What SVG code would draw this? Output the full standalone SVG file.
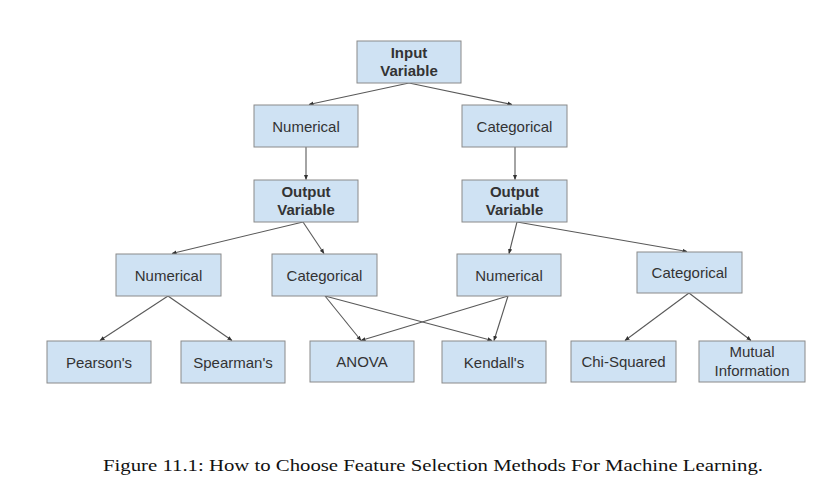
<svg xmlns="http://www.w3.org/2000/svg" width="827" height="495" viewBox="0 0 827 495">
<defs>
<style>
.box{fill:#cfe2f3;stroke:#8a8a8a;stroke-width:1}
.t{font-family:"Liberation Sans",Arial,sans-serif;font-size:15px;fill:#333333;text-anchor:middle}
.b{font-weight:bold}
.e{stroke:#595959;stroke-width:1.1;fill:none;marker-end:url(#ah)}
.cap{font-family:"Liberation Serif","Times New Roman",serif;font-size:16px;fill:#111111}
</style>
<marker id="ah" viewBox="0 0 6 6" refX="5.5" refY="3" markerWidth="5" markerHeight="5" orient="auto" markerUnits="userSpaceOnUse">
<path d="M0,0.5 L6,3 L0,5.5 Z" fill="#333333"/>
</marker>
</defs>
<rect width="827" height="495" fill="#ffffff"/>
<g id="connectors">
<line class="e" x1="409" y1="83" x2="309" y2="104.5"/>
<line class="e" x1="409" y1="83" x2="512" y2="104.5"/>
<line class="e" x1="306" y1="147" x2="306" y2="179.5"/>
<line class="e" x1="515" y1="147" x2="515" y2="179.5"/>
<line class="e" x1="303" y1="222" x2="172" y2="253.5"/>
<line class="e" x1="303" y1="222" x2="324" y2="253.5"/>
<line class="e" x1="517" y1="222" x2="509" y2="253.5"/>
<line class="e" x1="517" y1="222" x2="687" y2="251.5"/>
<line class="e" x1="168" y1="296" x2="100" y2="340.5"/>
<line class="e" x1="168" y1="296" x2="232" y2="340.5"/>
<line class="e" x1="325" y1="296" x2="361" y2="340.5"/>
<line class="e" x1="325" y1="296" x2="492" y2="340.5"/>
<line class="e" x1="508" y1="296" x2="361" y2="340.5"/>
<line class="e" x1="508" y1="296" x2="494" y2="340.5"/>
<line class="e" x1="689" y1="293" x2="625" y2="340.5"/>
<line class="e" x1="689" y1="293" x2="751" y2="340.5"/>
</g>
<g id="input">
<rect class="box" x="357" y="41" width="104" height="42"/>
<text class="t b" x="409" y="58">Input</text>
<text class="t b" x="409" y="76">Variable</text>
</g>
<g id="num1">
<rect class="box" x="254" y="105" width="104" height="42"/>
<text class="t" x="306" y="131.5">Numerical</text>
</g>
<g id="cat1">
<rect class="box" x="462" y="105" width="105" height="42"/>
<text class="t" x="514.5" y="131.5">Categorical</text>
</g>
<g id="out1">
<rect class="box" x="254" y="180" width="104" height="42"/>
<text class="t b" x="306" y="197">Output</text>
<text class="t b" x="306" y="215">Variable</text>
</g>
<g id="out2">
<rect class="box" x="462" y="180" width="105" height="42"/>
<text class="t b" x="514.5" y="197">Output</text>
<text class="t b" x="514.5" y="215">Variable</text>
</g>
<g id="num2">
<rect class="box" x="116" y="254" width="105" height="42"/>
<text class="t" x="168.5" y="280.5">Numerical</text>
</g>
<g id="cat2">
<rect class="box" x="272" y="254" width="105" height="42"/>
<text class="t" x="324.5" y="280.5">Categorical</text>
</g>
<g id="num3">
<rect class="box" x="457" y="254" width="104" height="42"/>
<text class="t" x="509" y="280.5">Numerical</text>
</g>
<g id="cat3">
<rect class="box" x="637" y="252" width="105" height="41"/>
<text class="t" x="689.5" y="277.5">Categorical</text>
</g>
<g id="pearson">
<rect class="box" x="47" y="341" width="104" height="42"/>
<text class="t" x="99" y="367.5">Pearson's</text>
</g>
<g id="spearman">
<rect class="box" x="181" y="341" width="104" height="42"/>
<text class="t" x="233" y="367.5">Spearman's</text>
</g>
<g id="anova">
<rect class="box" x="310" y="341" width="104" height="41"/>
<text class="t" x="362" y="366.5">ANOVA</text>
</g>
<g id="kendall">
<rect class="box" x="442" y="341" width="104" height="42"/>
<text class="t" x="494" y="367.5">Kendall's</text>
</g>
<g id="chi">
<rect class="box" x="571" y="341" width="105" height="41"/>
<text class="t" x="623.5" y="366.5">Chi-Squared</text>
</g>
<g id="mutual">
<rect class="box" x="699" y="341" width="106" height="41"/>
<text class="t" x="752" y="357">Mutual</text>
<text class="t" x="752" y="376">Information</text>
</g>
<text class="cap" x="103" y="471" textLength="660" lengthAdjust="spacingAndGlyphs">Figure 11.1: How to Choose Feature Selection Methods For Machine Learning.</text>
</svg>
